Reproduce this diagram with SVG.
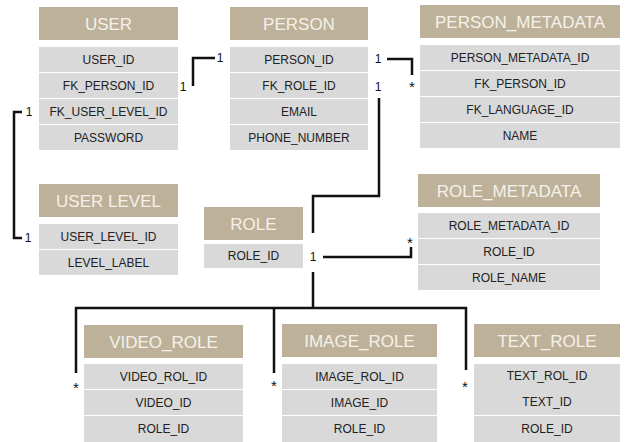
<svg xmlns="http://www.w3.org/2000/svg" width="628" height="442" viewBox="0 0 628 442">
<style>
.h{fill:#bdb299}
.r{fill:#d9d9d9}
.ht{font-family:"Liberation Sans",Arial,sans-serif;font-size:17px;fill:#f5f1ea;text-anchor:middle}
.rt{font-family:"Liberation Sans",Arial,sans-serif;font-size:12px;fill:#222;text-anchor:middle}
.c{fill:none;stroke:#111;stroke-width:2.5}
.l{font-family:"Liberation Sans",Arial,sans-serif;font-size:12px;fill:#111;text-anchor:middle}
.s{font-family:"Liberation Sans",Arial,sans-serif;font-size:15px;fill:#111;text-anchor:middle}
</style>
<rect width="628" height="442" fill="#fff"/>
<g id="connectors">
<path class="c" d="M22 112H14V238H22"/>
<path class="c" d="M193 86V58H215"/>
<path class="c" d="M387 59H412V75"/>
<path class="c" d="M379 98V196H313V233"/>
<path class="c" d="M323 257H411V247"/>
<path class="c" d="M313 272V308"/>
<path class="c" d="M76 373V308H466V370"/>
<path class="c" d="M274 308V373"/>
<text class="l" x="29" y="116">1</text>
<text class="l" x="28" y="242">1</text>
<text class="l" x="183" y="91">1</text>
<text class="l" x="220" y="62">1</text>
<text class="l" x="378" y="63">1</text>
<text class="s" x="412" y="92">*</text>
<text class="l" x="378" y="91">1</text>
<text class="l" x="313" y="261">1</text>
<text class="s" x="410" y="248">*</text>
<text class="s" x="76" y="393">*</text>
<text class="s" x="274" y="391">*</text>
<text class="s" x="465" y="392">*</text>
</g>
<g id="user">
<rect class="h" x="39" y="7" width="139" height="33"/>
<text class="ht" x="108.5" y="30">USER</text>
<rect class="r" x="39" y="47" width="139" height="25"/>
<rect class="r" x="39" y="73" width="139" height="25"/>
<rect class="r" x="39" y="99" width="139" height="25"/>
<rect class="r" x="39" y="125" width="139" height="25"/>
<text class="rt" x="108.5" y="64">USER_ID</text>
<text class="rt" x="108.5" y="90">FK_PERSON_ID</text>
<text class="rt" x="108.5" y="116">FK_USER_LEVEL_ID</text>
<text class="rt" x="108.5" y="142">PASSWORD</text>
</g>
<g id="person">
<rect class="h" x="230" y="7" width="138" height="33"/>
<text class="ht" x="299" y="30">PERSON</text>
<rect class="r" x="230" y="47" width="138" height="25"/>
<rect class="r" x="230" y="73" width="138" height="25"/>
<rect class="r" x="230" y="99" width="138" height="25"/>
<rect class="r" x="230" y="125" width="138" height="25"/>
<text class="rt" x="299" y="64">PERSON_ID</text>
<text class="rt" x="299" y="90">FK_ROLE_ID</text>
<text class="rt" x="299" y="116">EMAIL</text>
<text class="rt" x="299" y="142">PHONE_NUMBER</text>
</g>
<g id="person_metadata">
<rect class="h" x="420" y="5" width="200" height="33"/>
<text class="ht" x="520" y="28">PERSON_METADATA</text>
<rect class="r" x="420" y="45" width="200" height="25"/>
<rect class="r" x="420" y="71" width="200" height="25"/>
<rect class="r" x="420" y="97" width="200" height="25"/>
<rect class="r" x="420" y="123" width="200" height="25"/>
<text class="rt" x="520" y="62">PERSON_METADATA_ID</text>
<text class="rt" x="520" y="88">FK_PERSON_ID</text>
<text class="rt" x="520" y="114">FK_LANGUAGE_ID</text>
<text class="rt" x="520" y="140">NAME</text>
</g>
<g id="user_level">
<rect class="h" x="39" y="184" width="139" height="33"/>
<text class="ht" x="108.5" y="207">USER LEVEL</text>
<rect class="r" x="39" y="224" width="139" height="25"/>
<rect class="r" x="39" y="250" width="139" height="25"/>
<text class="rt" x="108.5" y="241">USER_LEVEL_ID</text>
<text class="rt" x="108.5" y="267">LEVEL_LABEL</text>
</g>
<g id="role">
<rect class="h" x="204" y="207" width="99" height="33"/>
<text class="ht" x="253.5" y="230">ROLE</text>
<rect class="r" x="204" y="244" width="99" height="24"/>
<text class="rt" x="253.5" y="260">ROLE_ID</text>
</g>
<g id="role_metadata">
<rect class="h" x="418" y="174" width="182" height="33"/>
<text class="ht" x="509" y="197">ROLE_METADATA</text>
<rect class="r" x="418" y="213" width="182" height="25"/>
<rect class="r" x="418" y="239" width="182" height="25"/>
<rect class="r" x="418" y="265" width="182" height="25"/>
<text class="rt" x="509" y="230">ROLE_METADATA_ID</text>
<text class="rt" x="509" y="256">ROLE_ID</text>
<text class="rt" x="509" y="282">ROLE_NAME</text>
</g>
<g id="video_role">
<rect class="h" x="84" y="325" width="159" height="33"/>
<text class="ht" x="163.5" y="348">VIDEO_ROLE</text>
<rect class="r" x="84" y="364" width="159" height="25"/>
<rect class="r" x="84" y="390" width="159" height="25"/>
<rect class="r" x="84" y="416" width="159" height="26"/>
<text class="rt" x="163.5" y="381">VIDEO_ROL_ID</text>
<text class="rt" x="163.5" y="407">VIDEO_ID</text>
<text class="rt" x="163.5" y="433">ROLE_ID</text>
</g>
<g id="image_role">
<rect class="h" x="282" y="324" width="155" height="33"/>
<text class="ht" x="359.5" y="347">IMAGE_ROLE</text>
<rect class="r" x="282" y="364" width="155" height="25"/>
<rect class="r" x="282" y="390" width="155" height="25"/>
<rect class="r" x="282" y="416" width="155" height="26"/>
<text class="rt" x="359.5" y="381">IMAGE_ROL_ID</text>
<text class="rt" x="359.5" y="407">IMAGE_ID</text>
<text class="rt" x="359.5" y="433">ROLE_ID</text>
</g>
<g id="text_role">
<rect class="h" x="474" y="324" width="146" height="33"/>
<text class="ht" x="547" y="347">TEXT_ROLE</text>
<rect class="r" x="474" y="364" width="146" height="51"/>
<rect class="r" x="474" y="416" width="146" height="26"/>
<text class="rt" x="547" y="380">TEXT_ROL_ID</text>
<text class="rt" x="547" y="406">TEXT_ID</text>
<text class="rt" x="547" y="433">ROLE_ID</text>
</g>
</svg>
